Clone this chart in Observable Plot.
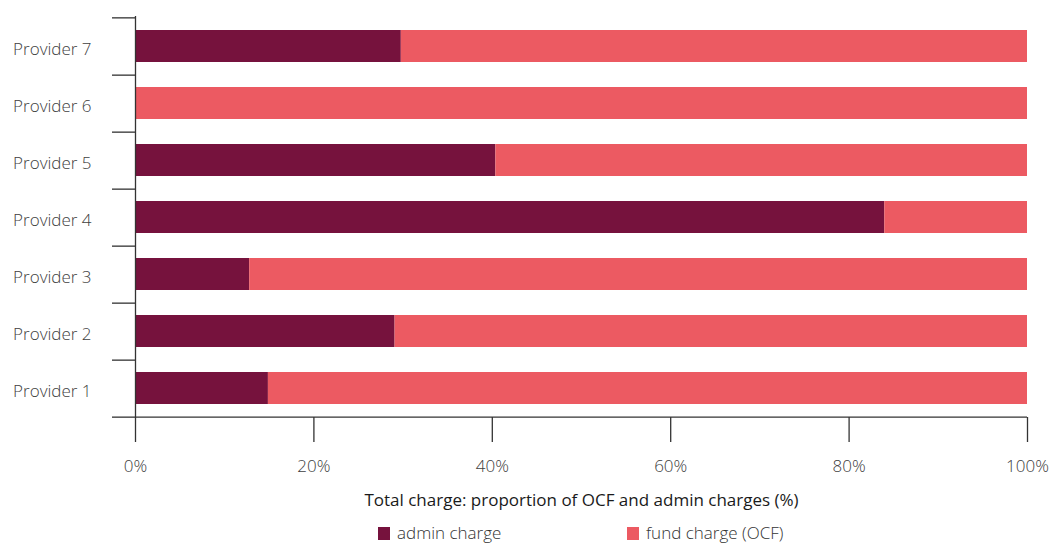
<!DOCTYPE html>
<html>
<head>
<meta charset="utf-8">
<script src="https://cdn.jsdelivr.net/npm/d3@7"></script>
<script src="https://cdn.jsdelivr.net/npm/@observablehq/plot@0.6"></script>
<style>
  html, body { margin: 0; padding: 0; background: #fff; }
  body { width: 1053px; height: 546px; overflow: hidden; font-family: "Open Sans", sans-serif; }
  #legend { position: relative; height: 26px; }
  .item { position: absolute; top: 3px; display: flex; align-items: center; font-size: 17px; font-weight: 300; color: #333; line-height: 20px; }
  .sw { width: 12px; height: 13px; margin-right: 7px; }
</style>
</head>
<body>
<div id="chart"></div>
<div id="legend"></div>
<script>
const providers = ["Provider 1", "Provider 2", "Provider 3", "Provider 4", "Provider 5", "Provider 6", "Provider 7"];
const adminCharge = [14.9, 29.1, 12.8, 84.0, 40.4, 0, 29.8];
const fundCharge = [85.1, 70.9, 87.2, 16.0, 59.6, 100, 70.2];
const seriesNames = ["admin charge", "fund charge (OCF)"];
const seriesColors = ["#76123D", "#EC5A62"];
const xTicks = [0, 20, 40, 60, 80, 100];
const xLabel = "Total charge: proportion of OCF and admin charges (%)";

const rows = [];
providers.forEach((p, i) => {
  rows.push({provider: p, series: seriesNames[0], value: adminCharge[i]});
  rows.push({provider: p, series: seriesNames[1], value: fundCharge[i]});
});

const W = 1053, H = 520, mt = 16, mb = H - 417, ml = 135, mr = 26;
const step = (H - mt - mb) / providers.length;
const yDomain = providers.slice().reverse();
const axisColor = "#333";
const textColor = "#404040";

const chart = Plot.plot({
  width: W, height: H,
  marginTop: mt, marginBottom: mb, marginLeft: ml, marginRight: mr,
  style: {fontFamily: "'Open Sans', sans-serif", fontSize: "17px", color: textColor, background: "#fff"},
  x: {domain: [0, 100]},
  y: {domain: yDomain, paddingInner: 0.44, paddingOuter: 0.22},
  color: {domain: seriesNames, range: seriesColors},
  marks: [
    Plot.barX(rows, Plot.stackX({y: "provider", x: "value", fill: "series", order: seriesNames})),
    Plot.ruleX([0], {stroke: axisColor, strokeWidth: 1.3}),
    Plot.ruleY([providers[0]], {dy: step / 2, x1: 0, x2: 100, stroke: axisColor, strokeWidth: 1.3}),
    Plot.axisY({tickSize: 0, tickPadding: 44, dy: 3, fontSize: 17, fontWeight: 300, fill: textColor, label: null}),
    Plot.axisY({tickSize: 23, dy: step / 2, text: null, stroke: axisColor, strokeWidth: 1.3, label: null}),
    Plot.axisY([yDomain[0]], {tickSize: 23, dy: -step / 2, text: null, stroke: axisColor, strokeWidth: 1.3, label: null}),
    Plot.axisX({ticks: xTicks, tickSize: 25, tickPadding: 17, tickFormat: d => d + "%", fontSize: 17, fontWeight: 300, fill: textColor, stroke: axisColor, strokeWidth: 1.3,
      label: xLabel, labelAnchor: "center", labelArrow: "none", labelOffset: 88})
  ]
});
chart.querySelectorAll("g[aria-label='x-axis label'] text, g[aria-label='x-axis label']").forEach(el => {
  el.setAttribute("font-size", "17");
  el.setAttribute("font-weight", "500");
  el.setAttribute("fill", "#1a1a1a");
});
document.getElementById("chart").appendChild(chart);

const legend = document.getElementById("legend");
const lx = [378, 627];
seriesNames.forEach((name, i) => {
  const it = document.createElement("div");
  it.className = "item";
  it.style.left = lx[i] + "px";
  const sw = document.createElement("span");
  sw.className = "sw";
  sw.style.background = seriesColors[i];
  const tx = document.createElement("span");
  tx.textContent = name;
  it.appendChild(sw); it.appendChild(tx);
  legend.appendChild(it);
});
</script>
</body>
</html>
